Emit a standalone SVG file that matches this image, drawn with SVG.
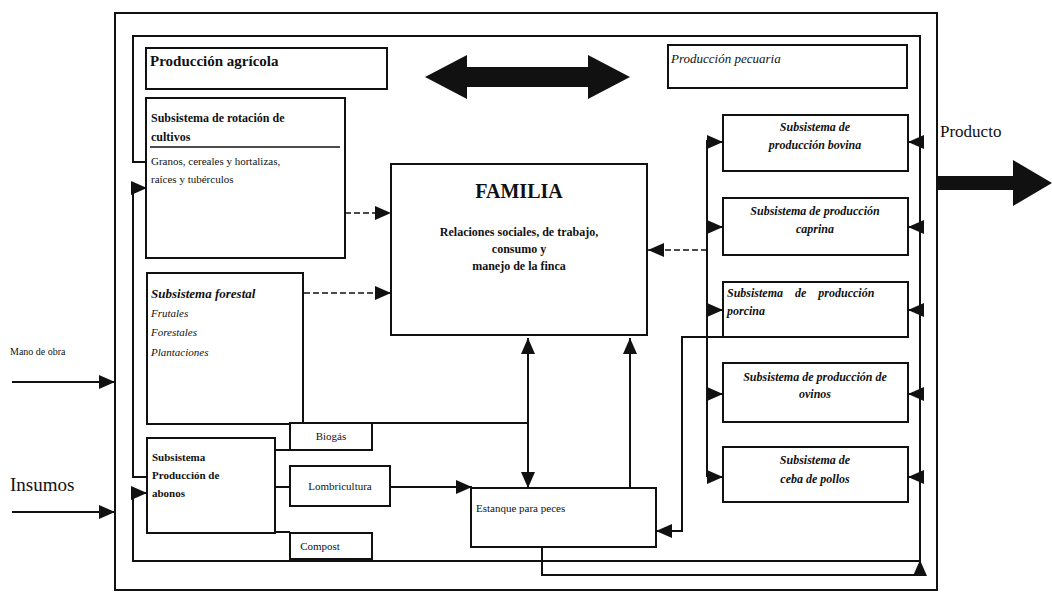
<svg xmlns="http://www.w3.org/2000/svg" width="1052" height="595" viewBox="0 0 1052 595">
<style>
.box{fill:#fff;stroke:#111;stroke-width:2}
.ln{fill:none;stroke:#111;stroke-width:2}
.dash{fill:none;stroke:#111;stroke-width:1.5;stroke-dasharray:6 3}
.t{font-family:"Liberation Serif",serif;fill:#111;font-size:11px;font-weight:bold}
.ti{font-family:"Liberation Serif",serif;fill:#111;font-size:12px;font-weight:bold;font-style:italic}
.c{text-anchor:middle}
</style>
<defs>
<marker id="ah" markerUnits="userSpaceOnUse" markerWidth="16" markerHeight="14" refX="16" refY="7" orient="auto-start-reverse">
<path d="M0,0 L16,7 L0,14 z" fill="#111"/>
</marker>
</defs>
<rect width="1052" height="595" fill="#fff"/>
<g id="frame">
<rect x="115" y="13" width="822" height="577" fill="none" stroke="#111" stroke-width="2"/>
</g>
<g id="connectors">
<path class="ln" d="M148,162 H133 V36 H920 V575"/>
<path class="ln" d="M147,477 H133 V188 H147" marker-end="url(#ah)"/>
<path class="ln" d="M920,561 H133 V493 H147" marker-end="url(#ah)"/>
<path class="ln" d="M542,547 V575 H920 V560" marker-end="url(#ah)"/>
<path class="dash" d="M345,213 H391" marker-end="url(#ah)"/>
<path class="dash" d="M304,293 H391" marker-end="url(#ah)"/>
<path class="dash" d="M707,250 H648" marker-end="url(#ah)"/>
<path class="ln" d="M707,140 V477"/>
<path class="ln" d="M707,142 H723" marker-end="url(#ah)"/>
<path class="ln" d="M707,227 H723" marker-end="url(#ah)"/>
<path class="ln" d="M707,310 H723" marker-end="url(#ah)"/>
<path class="ln" d="M707,394 H723" marker-end="url(#ah)"/>
<path class="ln" d="M707,477 H723" marker-end="url(#ah)"/>
<path class="ln" d="M920,142 H908" marker-end="url(#ah)"/>
<path class="ln" d="M920,227 H908" marker-end="url(#ah)"/>
<path class="ln" d="M920,310 H908" marker-end="url(#ah)"/>
<path class="ln" d="M920,394 H908" marker-end="url(#ah)"/>
<path class="ln" d="M920,477 H908" marker-end="url(#ah)"/>
<path class="ln" d="M147,423 H528"/>
<path class="ln" d="M528,338 V488" marker-start="url(#ah)" marker-end="url(#ah)"/>
<path class="ln" d="M630,488 V338" marker-end="url(#ah)"/>
<path class="ln" d="M723,337 H682 V531 H656" marker-end="url(#ah)"/>
<path class="ln" d="M390,487 H472" marker-end="url(#ah)"/>
<path class="ln" d="M275,487 H290"/>
<path class="ln" d="M275,450 H290"/>
<path class="ln" d="M275,532 H290"/>
<path class="ln" d="M12,382 H115" marker-end="url(#ah)"/>
<path class="ln" d="M12,512 H115" marker-end="url(#ah)"/>
<polygon points="425,77 467,55 467,67 588,67 588,55 630,77 588,99 588,87 467,87 467,99" fill="#111"/>
<polygon points="937,176 1013,176 1013,160 1052,183 1013,206 1013,190 937,190" fill="#111"/>
</g>
<g id="prod-agricola">
<rect class="box" x="146" y="48" width="241" height="41"/>
<text class="t" x="150" y="66" style="font-size:15px">Producción agrícola</text>
</g>
<g id="prod-pecuaria">
<rect class="box" x="668" y="45" width="239" height="43"/>
<text class="ti" x="671" y="63" style="font-weight:normal;font-size:13px">Producción pecuaria</text>
</g>
<g id="rotacion">
<rect class="box" x="146" y="98" width="199" height="160"/>
<text class="t" x="151" y="122" style="font-size:12px">Subsistema de rotación de</text>
<text class="t" x="151" y="141" style="font-size:12px">cultivos</text>
<line x1="150" y1="147" x2="340" y2="147" stroke="#111" stroke-width="1.5"/>
<text class="t" x="151" y="165" style="font-weight:normal">Granos, cereales y hortalizas,</text>
<text class="t" x="151" y="183" style="font-weight:normal">raíces y tubérculos</text>
</g>
<g id="forestal">
<rect class="box" x="147" y="273" width="156" height="151"/>
<text class="ti" x="151" y="298" style="font-size:13px">Subsistema forestal</text>
<text class="ti" x="151" y="317" style="font-weight:normal;font-size:11px">Frutales</text>
<text class="ti" x="151" y="336" style="font-weight:normal;font-size:11px">Forestales</text>
<text class="ti" x="151" y="356" style="font-weight:normal;font-size:11px">Plantaciones</text>
</g>
<g id="abonos">
<rect class="box" x="147" y="438" width="128" height="95"/>
<text class="t" x="152" y="461">Subsistema</text>
<text class="t" x="152" y="479">Producción de</text>
<text class="t" x="152" y="497">abonos</text>
</g>
<g id="biogas">
<rect class="box" x="290" y="423" width="82" height="27"/>
<text class="t c" x="331" y="440" style="font-weight:normal">Biogás</text>
</g>
<g id="lombricultura">
<rect class="box" x="290" y="466" width="100" height="40"/>
<text class="t c" x="340" y="490" style="font-weight:normal">Lombricultura</text>
</g>
<g id="compost">
<rect class="box" x="290" y="533" width="82" height="26"/>
<text class="t c" x="320" y="550" style="font-weight:normal">Compost</text>
</g>
<g id="familia">
<rect class="box" x="391" y="164" width="256" height="171"/>
<text class="t c" x="519" y="198" style="font-size:20px">FAMILIA</text>
<text class="t c" x="519" y="236" style="font-size:12px">Relaciones sociales, de trabajo,</text>
<text class="t c" x="519" y="253" style="font-size:12px">consumo y</text>
<text class="t c" x="519" y="270" style="font-size:12px">manejo de la finca</text>
</g>
<g id="estanque">
<rect class="box" x="471" y="488" width="185" height="59"/>
<text class="t" x="476" y="512" style="font-weight:normal">Estanque para peces</text>
</g>
<g id="bovina">
<rect class="box" x="723" y="115" width="185" height="56"/>
<text class="ti c" x="815" y="131">Subsistema de</text>
<text class="ti c" x="815" y="149">producción bovina</text>
</g>
<g id="caprina">
<rect class="box" x="723" y="198" width="185" height="57"/>
<text class="ti c" x="815" y="215">Subsistema de producción</text>
<text class="ti c" x="815" y="233">caprina</text>
</g>
<g id="porcina">
<rect class="box" x="723" y="282" width="185" height="55"/>
<text class="ti" x="727" y="297" style="word-spacing:9px">Subsistema de producción</text>
<text class="ti" x="727" y="315">porcina</text>
</g>
<g id="ovinos">
<rect class="box" x="723" y="363" width="185" height="59"/>
<text class="ti c" x="815" y="381">Subsistema de producción de</text>
<text class="ti c" x="815" y="398">ovinos</text>
</g>
<g id="pollos">
<rect class="box" x="723" y="447" width="185" height="55"/>
<text class="ti c" x="815" y="464">Subsistema de</text>
<text class="ti c" x="815" y="483">ceba de pollos</text>
</g>
<g id="labels">
<text class="t" x="10" y="355" style="font-weight:normal;font-size:10px">Mano de obra</text>
<text class="t" x="10" y="491" style="font-weight:normal;font-size:19px">Insumos</text>
<text class="t" x="940" y="137" style="font-weight:normal;font-size:17px">Producto</text>
</g>
</svg>
